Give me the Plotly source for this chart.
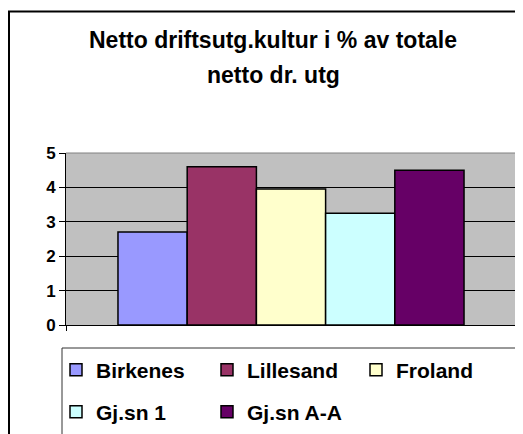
import plotly.graph_objects as go

categories = ["Birkenes", "Lillesand", "Froland", "Gj.sn 1", "Gj.sn A-A"]
values = [2.7, 4.6, 3.95, 3.25, 4.5]
colors = ["#9999FF", "#993366", "#FFFFCC", "#CCFFFF", "#660066"]
title_lines = ["Netto driftsutg.kultur i % av totale", "netto dr. utg"]
y_ticks = [0, 1, 2, 3, 4, 5]

# The page body has the browser's default 8px margin, so the figure starts
# at screen (8, 8); all positions below are given in screen pixels.
# The figure is made taller than the window so the legend box and the
# outer frame run off the bottom edge, as in the original.
OFF = 8
EXTRA = 40
W, H = 523 - OFF, 434 - OFF + EXTRA
PLOT_L, PLOT_R, PLOT_T, PLOT_B = 66, 516, 153, 325
L, R, T, B = PLOT_L - OFF, 523 - PLOT_R, PLOT_T - OFF, 434 - PLOT_B + EXTRA
PW, PH = PLOT_R - PLOT_L, PLOT_B - PLOT_T


def px(x):
    return (x - PLOT_L) / PW


def py(y):
    return (PLOT_B - y) / PH


font = dict(family="Liberation Sans, Arial, sans-serif", color="black")

# legend entry anchor points (screen px): symbol left edge, row centre
legend_slots = [(70, 370), (221, 370), (370, 370), (70, 412), (221, 412)]

fig = go.Figure()
layout_legends = {}
for i, (name, v, c) in enumerate(zip(categories, values, colors)):
    key = "legend" if i == 0 else f"legend{i + 1}"
    fig.add_trace(go.Bar(
        x=[""], y=[v], name=name, legend=key,
        marker=dict(color=c, line=dict(color="black", width=1.5)),
        hoverinfo="name+y",
    ))
    sx, sy = legend_slots[i]
    layout_legends[key] = dict(
        x=px(sx - 14), y=py(sy), xanchor="left", yanchor="middle",
        xref="paper", yref="paper",
        bgcolor="rgba(0,0,0,0)", borderwidth=0,
        font=dict(size=21, weight="bold", **font),
    )

annotations = []
for j, line in enumerate(title_lines):
    annotations.append(dict(
        text=line, showarrow=False,
        xref="paper", yref="paper",
        x=px(273), y=py(40 + 35 * j), xanchor="center", yanchor="middle",
        font=dict(size=23, weight="bold", **font),
    ))

fig.update_layout(
    width=W, height=H,
    margin=dict(l=L, r=R, t=T, b=B, pad=0),
    paper_bgcolor="white",
    plot_bgcolor="#C0C0C0",
    barmode="group",
    bargap=0.231,
    bargroupgap=0,
    font=font,
    showlegend=True,
    annotations=annotations,
    xaxis=dict(
        showticklabels=False,
        ticks="outside", ticklen=5, tickcolor="black",
        tickson="boundaries",
        showline=True, linecolor="black", linewidth=1,
        showgrid=False, zeroline=False, fixedrange=True,
    ),
    yaxis=dict(
        range=[0, 5], tickvals=y_ticks,
        ticks="outside", ticklen=6, tickcolor="black",
        showline=True, linecolor="black", linewidth=1,
        showgrid=True, gridcolor="black", gridwidth=1,
        zeroline=False,
        tickfont=dict(size=17, weight="bold", **font),
        fixedrange=True,
    ),
    shapes=[
        # plot area top / right border (grey)
        dict(type="line", xref="paper", yref="paper", x0=0, x1=1, y0=1, y1=1,
             line=dict(color="#808080", width=1), layer="above"),
        dict(type="line", xref="paper", yref="paper", x0=1, x1=1, y0=0, y1=1,
             line=dict(color="#808080", width=1), layer="above"),
        # legend box
        dict(type="rect", xref="paper", yref="paper",
             x0=px(62), x1=px(516), y0=py(348), y1=py(460),
             line=dict(color="#333333", width=1), fillcolor="white", layer="below"),
        # outer chart frame
        dict(type="rect", xref="paper", yref="paper",
             x0=px(9), x1=px(540), y0=py(11.5), y1=py(465),
             line=dict(color="black", width=2), layer="above"),
    ],
    **layout_legends,
)

fig.write_html("out.html")
